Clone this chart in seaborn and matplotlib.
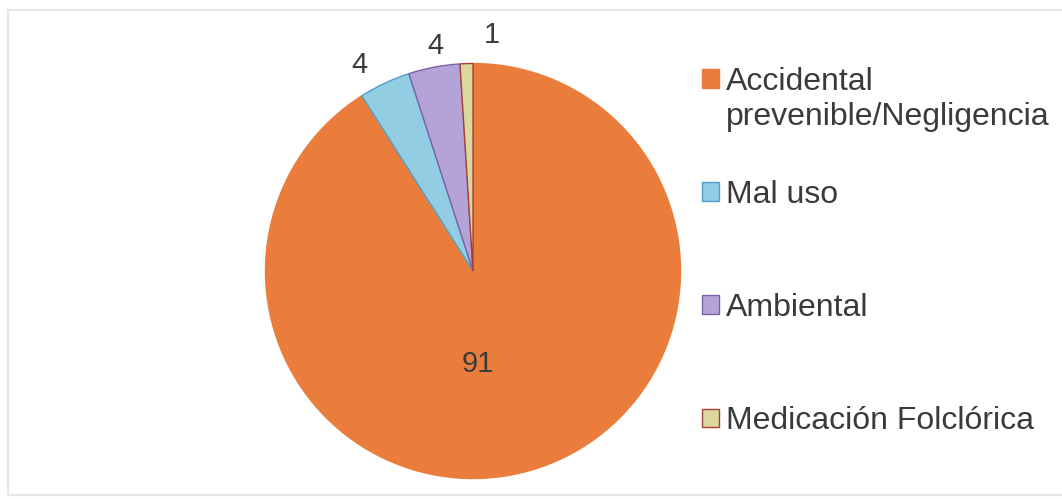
import matplotlib
matplotlib.use("Agg")
import matplotlib.pyplot as plt
from matplotlib.patches import Rectangle
from matplotlib.text import Annotation
import seaborn as sns

# Data
categories = ["Accidental prevenible/Negligencia", "Mal uso", "Ambiental", "Medicación Folclórica"]
legend_first_lines = ["Accidental", "Mal uso", "Ambiental", "Medicación Folclórica"]
values = [91, 4, 4, 1]
value_labels = ["91", "4", "4", "1"]

# Styling
fill_colors = ["#EA7D3C", "#93CDE3", "#B5A3D8", "#DCD79A"]
edge_colors = ["#EA7D3C", "#4E9FC6", "#7B62A8", "#A8403A"]
# label positions in pie-radius units
label_xy = [(0.024, -0.448), (-0.545, 0.993), (-0.183, 1.084), (0.092, 1.137)]
text_color = "#3a3a3a"

sns.set_theme(style="white")
plt.rcParams["font.family"] = ["Liberation Sans", "DejaVu Sans"]

W, H, DPI = 1062, 499, 100
fig = plt.figure(figsize=(W / DPI, H / DPI), dpi=DPI)
fig.patch.set_facecolor("white")

# faint chart border
fig.patches.append(Rectangle((8 / W, 4 / H), 1.2, (H - 14) / H,
                             transform=fig.transFigure, fill=False,
                             edgecolor="#e6e6e6", linewidth=1.5))

cx, cy, r = 473, 271, 207.5
ax = fig.add_axes([(cx - r) / W, (H - cy - r) / H, 2 * r / W, 2 * r / H])

wedges, _ = ax.pie(values, colors=fill_colors, startangle=90, counterclock=False,
                   wedgeprops=dict(linewidth=1.0))
for w, ec in zip(wedges, edge_colors):
    w.set_edgecolor(ec)
ax.set_xlim(-1, 1)
ax.set_ylim(-1, 1)
ax.set_aspect("equal")
ax.axis("off")

for (lx, ly), txt in zip(label_xy, value_labels):
    ax.text(lx, ly, txt, ha="center", va="center", fontsize=21, color=text_color)

fs = 23
leg = fig.legend(wedges, legend_first_lines, loc="upper left",
                 bbox_to_anchor=(702 / W, 1 - 67 / H), frameon=False,
                 fontsize=fs, handlelength=0.52, handleheight=0.52,
                 handletextpad=0.24, labelspacing=2.6, borderpad=0,
                 borderaxespad=0)
for t in leg.get_texts():
    t.set_color(text_color)
for h in leg.legend_handles:
    h.set_linewidth(1.0)

# second line of the first legend entry
line2 = Annotation("prevenible/Negligencia", xy=(0, 0), xycoords=leg.get_texts()[0],
                   xytext=(0, -35), textcoords="offset pixels", ha="left",
                   va="bottom", fontsize=fs, color=text_color)
line2.set_zorder(leg.get_zorder() + 1)
fig.add_artist(line2)

fig.savefig("out.png", dpi=DPI, facecolor="white")
